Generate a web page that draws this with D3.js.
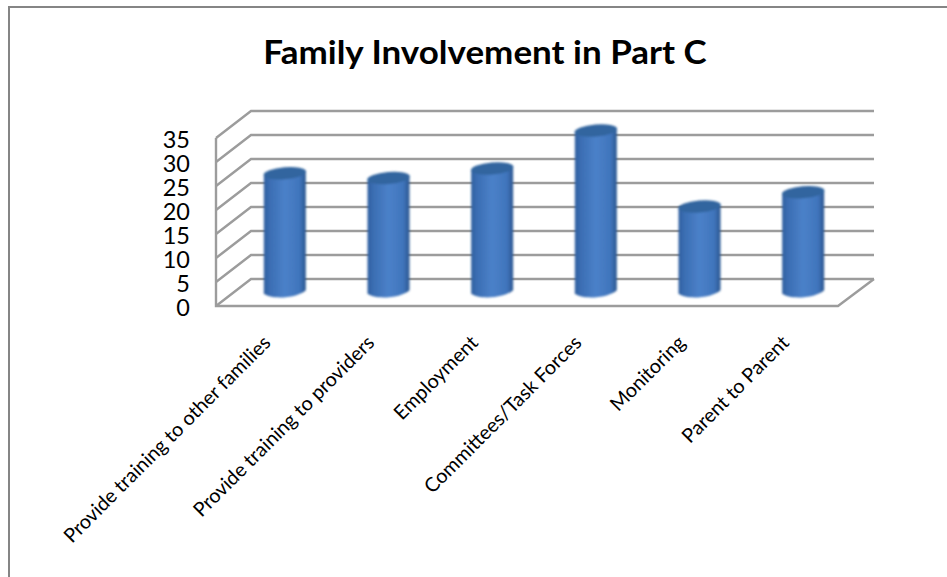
<!DOCTYPE html>
<html>
<head>
<meta charset="utf-8">
<script src="https://cdnjs.cloudflare.com/ajax/libs/d3/7.8.5/d3.min.js"></script>
<style>
  body { margin: 0; background: #fff; }
  svg { display: block; font-family: Lato, "Open Sans", sans-serif; }
</style>
</head>
<body>
<div id="chart"></div>
<script>
var categories = ["Provide training to other families", "Provide training to providers", "Employment",
                  "Committees/Task Forces", "Monitoring", "Parent to Parent"];
var values = [25, 24, 26, 34, 18, 21];
var tickValues = [0, 5, 10, 15, 20, 25, 30, 35];

var svgWidth = 947;
var svgHeight = 577;

var svg = d3.select("#chart").append("svg")
  .attr("width", svgWidth)
  .attr("height", svgHeight);

// the fake 3d box: front plane plus an offset to the back wall
var front = {left: 216, right: 838, bottom: 306, top: 138};
var depth = {x: 35, y: -27};

var xScale = d3.scaleBand()
  .domain(categories)
  .range([front.left + 17, front.right + 17]);

var yFront = d3.scaleLinear().domain([0, 35]).range([front.bottom, front.top]);
var yBar = d3.scaleLinear().domain([0, 35]).range([292, 292 - 35 * 4.75]);

var defs = svg.append("defs");
var grad = defs.append("linearGradient").attr("id", "barGrad");
grad.append("stop").attr("offset", "0%").attr("stop-color", "#2f5f9f");
grad.append("stop").attr("offset", "14%").attr("stop-color", "#3b6eb3");
grad.append("stop").attr("offset", "50%").attr("stop-color", "#4b81c9");
grad.append("stop").attr("offset", "85%").attr("stop-color", "#4075bc");
grad.append("stop").attr("offset", "100%").attr("stop-color", "#2c5790");

defs.append("filter").attr("id", "soft")
  .append("feGaussianBlur").attr("stdDeviation", 0.7);
defs.append("filter").attr("id", "softBar")
  .attr("x", "-10%").attr("width", "120%")
  .append("feGaussianBlur").attr("stdDeviation", 0.9);

// outer frame, only top and left show in the picture
svg.append("path")
  .attr("d", "M9," + svgHeight + "V7H" + svgWidth)
  .attr("fill", "none")
  .attr("stroke", "#858585")
  .attr("stroke-width", 2);

svg.append("text")
  .attr("text-anchor", "middle")
  .attr("font-size", 33)
  .attr("font-weight", 700)
  .attr("fill", "#000")
  .attr("transform", "translate(485,63.5) scale(1.06,1)")
  .text("Family Involvement in Part C");

// walls and grid
var grid = svg.append("g")
  .attr("fill", "none")
  .attr("stroke", "#9c9c9c")
  .attr("stroke-width", 2.4)
  .attr("filter", "url(#soft)");

grid.selectAll(".gridline")
  .data(tickValues)
  .enter()
  .append("path")
  .attr("class", "gridline")
  .attr("d", function(d) {
    var y = yFront(d);
    return "M" + front.left + "," + y + "L" + (front.left + depth.x) + "," + (y + depth.y) + "H" + (front.right + depth.x + 1);
  });

grid.append("path")
  .attr("d", "M" + front.left + "," + yFront(35) + "V" + front.bottom + "H" + front.right + "L" + (front.right + depth.x + 1) + "," + (front.bottom + depth.y));

// y axis labels, domain and ticks hidden
var yAxis = d3.axisLeft(yFront).tickValues(tickValues).tickSize(0).tickPadding(0);
var gY = svg.append("g")
  .attr("transform", "translate(190,1.5)")
  .call(yAxis);
gY.select(".domain").remove();
gY.selectAll("text")
  .attr("font-size", 23.5)
  .attr("font-family", "Lato, sans-serif")
  .attr("fill", "#000");

// cylinders
var barW = 42;
var tilt = -5;
var bars = svg.selectAll(".bar")
  .data(values)
  .enter()
  .append("g")
  .attr("class", "bar")
  .attr("filter", "url(#softBar)");

bars.append("path")
  .attr("fill", "url(#barGrad)")
  .attr("d", function(d, i) {
    var cx = xScale(categories[i]) + xScale.bandwidth() / 2;
    var lx = cx - barW / 2, rx = cx + barW / 2;
    var dy = 1.8;
    // side of the cylinder, with the tilted bottom curve
    return "M" + lx + "," + (yBar(d) + dy) +
      "L" + lx + "," + (yBar(0) + dy) +
      "C" + (lx + 8) + "," + (yBar(0) + 8) + " " + (rx - 8) + "," + (yBar(0) + 6) + " " + rx + "," + (yBar(0) - dy) +
      "L" + rx + "," + (yBar(d) - dy) + "Z";
  });

bars.append("ellipse")
  .attr("fill", "#31659f")
  .attr("rx", barW / 2 + 0.3)
  .attr("ry", 6)
  .attr("transform", function(d, i) {
    var cx = xScale(categories[i]) + xScale.bandwidth() / 2;
    return "translate(" + cx + "," + yBar(d) + ") rotate(" + tilt + ")";
  });

// rotated category labels, ending just under each bar
svg.selectAll(".catLabel")
  .data(categories)
  .enter()
  .append("text")
  .attr("class", "catLabel")
  .attr("text-anchor", "end")
  .attr("font-size", 19.8)
  .attr("fill", "#000")
  .attr("transform", function(d) {
    var cx = xScale(d) + xScale.bandwidth() / 2;
    return "translate(" + (cx - 13) + ",344) rotate(-45)";
  })
  .text(function(d) { return d; });
</script>
</body>
</html>
